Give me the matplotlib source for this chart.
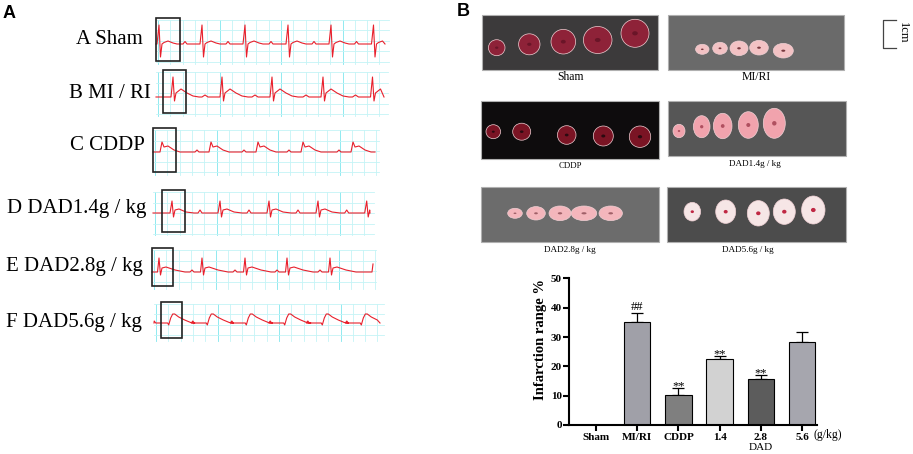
import numpy as np
import matplotlib
matplotlib.use('Agg')
from matplotlib import pyplot as plt
from matplotlib.patches import Rectangle, Ellipse

SERIF = 'Liberation Serif'
SANS = 'Liberation Sans'

# ---------- panel A: ECG rows ----------
ecg_labels = ['A Sham', 'B MI / RI', 'C CDDP', 'D DAD1.4g / kg', 'E DAD2.8g / kg', 'F DAD5.6g / kg']
label_right = [143, 151, 145, 146, 143, 142]
label_y = [40, 93, 145, 209, 266, 322]
baseline_y = [44, 97, 152, 213, 272, 323]
trace_start = [156, 156, 153, 153, 152, 154]
trace_end = [385, 384, 375, 370, 372, 380]
beat_x = [
    [159, 202, 245, 288, 331, 373.5],
    [173, 222, 272, 323, 372.5],
    [162, 211, 258, 303, 353],
    [172, 220, 269, 318, 366.7],
    [159, 202, 245, 287, 330],
    [170.7, 209.3, 248.3, 286.7, 324.3, 363.3],
]
# beat shapes: (offset from R peak in px, height above baseline in px)
beat_shape = [
    [(-19, 0), (-17, 2.5), (-15, 0), (-2, 0), (0, 19), (1.5, -13), (3, 0), (5, 1.5), (9, 3), (14, 1), (18, 0)],
    [(-20, 0), (-17, 2), (-14, 0), (-2, 0), (0, 20), (1.5, -4), (3, 4), (8, 8), (14, 4), (20, 1), (26, 0)],
    [(-16, 0), (-14, 2), (-12, 0), (-2, 0), (0, 10), (2, 5), (6, 6), (12, 2), (18, 0)],
    [(-22, 0), (-20, 3), (-18, 0), (-2, 0), (0, 12), (1.5, -4), (3, 3), (7, 4), (14, 1), (22, 0)],
    [(-12, 0), (-10, 2), (-8, 0), (-1.5, 0), (0, 14), (1.5, -3), (3, 4), (7, 5), (16, 2), (26, 0)],
    [(-18, 0), (-16.5, 2), (-15, 0), (-3, 0), (-2, -2), (0, 5), (2, 9), (4, 9), (8, 6), (14, 3), (20, 0.5), (24, 0)],
]
box_x = [[155.8, 179.7], [162.6, 185.8], [152.7, 175.7], [161.7, 185], [151.7, 173], [160.7, 182.3]]
box_y = [[17.5, 60.5], [70, 113], [128, 172], [190, 232], [248, 285.7], [301.7, 338.3]]

# ---------- panel B: photos ----------
photo_names = ['Sham', 'MI/RI', 'CDDP', 'DAD1.4g / kg', 'DAD2.8g / kg', 'DAD5.6g / kg']
photo_x = [[481.7, 658.3], [667.7, 844.3], [480.7, 659], [667.7, 845.7], [480.7, 659], [667.3, 845.7]]
photo_y = [[15, 70], [15, 70], [100.7, 159], [100.7, 156], [187.3, 242.3], [187.3, 242.3]]
photo_bg = ['#3c3a3b', '#6a6a6a', '#0e0c0d', '#565656', '#6c6c6c', '#4c4c4c']
caption_x = [570, 756, 570, 755, 570, 748]
caption_y = [77, 77, 166, 164, 250, 250]
caption_size = [8.5, 8.5, 6.3, 6.6, 6.6, 6.6]
slice_x = [
    [496.7, 529.3, 563.3, 597.7, 635],
    [702.3, 720, 739, 759, 783.3],
    [493.3, 521.7, 566.7, 603.3, 640],
    [679, 701.7, 722.7, 748.3, 774.3],
    [515, 536, 560, 584, 610.7],
    [692.3, 725.7, 758.3, 784.3, 813.3],
]
slice_y = [
    [47.7, 44.3, 41.7, 40, 33.3],
    [49.3, 48.3, 48.3, 47.7, 50.7],
    [131.7, 131.7, 135, 136, 136.7],
    [131, 126.7, 126, 125, 123.3],
    [213.3, 213.3, 213.3, 213.3, 213.3],
    [211.7, 211.7, 213.3, 211.7, 210],
]
slice_w = [
    [8.3, 10.7, 12.3, 14.3, 14],
    [6.7, 7.3, 9, 9.3, 10],
    [7.3, 9, 9.3, 10, 10.7],
    [6, 8.3, 9.3, 10, 11],
    [7.3, 9.3, 11, 12.7, 11.7],
    [8.3, 10, 11, 11, 11.7],
]
slice_h = [
    [8, 10.5, 12.3, 13.5, 14],
    [5, 6, 7.3, 7.3, 7.3],
    [7, 8.5, 9.3, 10, 10.7],
    [6.7, 11, 12.7, 13.3, 15],
    [5, 6.7, 7.3, 7.3, 7.3],
    [9.3, 11.7, 12.7, 12.7, 14],
]
slice_face = ['#8e2238', '#f3c2c4', '#7a1424', '#f1a3ad', '#f4b6bc', '#f6e6e6']
slice_core = ['#6a1528', '#7a3a40', '#2a0a10', '#b05060', '#a06068', '#c02844']

# ---------- panel B: bar chart ----------
groups = ['Sham', 'MI/RI', 'CDDP', '1.4', '2.8', '5.6']
infarct = [0, 35.0, 10.2, 22.4, 15.7, 28.3]
infarct_err = [0, 3.3, 2.3, 1.2, 1.3, 3.5]
signif = ['', '##', '**', '**', '**', '']
bar_colors = ['#a0a0a8', '#a0a0a8', '#7f7f7f', '#d2d2d2', '#5c5c5c', '#a6a6ae']

fig = plt.figure(figsize=(9.13, 4.54), dpi=100)
bg = fig.add_axes([0, 0, 1, 1])
bg.set_xlim(0, 913)
bg.set_ylim(454, 0)
bg.axis('off')

bg.text(3, 13, 'A', fontsize=13, fontweight='bold', family=SANS, va='center', ha='left')
bg.text(457, 11, 'B', fontsize=13, fontweight='bold', family=SANS, va='center', ha='left')

for i in range(len(ecg_labels)):
    x0, x1 = trace_start[i], trace_end[i]
    gy0 = box_y[i][0] + 2
    gy1 = box_y[i][1] + 3
    # ECG paper grid
    for k, gx in enumerate(np.arange(x0 + 2, x1 + 4, 12.3)):
        c = '#7fe6ee' if k % 5 == 0 else '#c4f4f6'
        bg.plot([gx, gx], [gy0, gy1], color=c, lw=0.6, zorder=1)
    for k, gy in enumerate(np.arange(gy0, gy1, 10.5)):
        bg.plot([x0, x1 + 4], [gy, gy], color='#c4f4f6', lw=0.6, zorder=1)
    # trace
    px = [x0]
    py = [0]
    for bx in beat_x[i]:
        for dx, dy in beat_shape[i]:
            if x0 < bx + dx < x1:
                px.append(bx + dx)
                py.append(dy)
    px.append(x1)
    py.append(0)
    if i == 4:
        px.append(x1 + 1)
        py.append(8)
    bg.plot(px, baseline_y[i] - np.array(py), color='#e8202c', lw=0.8, zorder=3)
    bg.add_patch(Rectangle((box_x[i][0], box_y[i][0]), box_x[i][1] - box_x[i][0],
                           box_y[i][1] - box_y[i][0], fill=False, ec='#222222', lw=1.2, zorder=4))
    bg.text(label_right[i], label_y[i], ecg_labels[i], family=SERIF, fontsize=15,
            ha='right', va='center')

for i in range(len(photo_names)):
    bg.add_patch(Rectangle((photo_x[i][0], photo_y[i][0]), photo_x[i][1] - photo_x[i][0],
                           photo_y[i][1] - photo_y[i][0], fc=photo_bg[i], ec='#b0b0b0', lw=0.8))
    for sx, sy, sw, sh in zip(slice_x[i], slice_y[i], slice_w[i], slice_h[i]):
        bg.add_patch(Ellipse((sx, sy), 2 * sw, 2 * sh, fc=slice_face[i], ec='#f0d0d4', lw=0.5))
        bg.add_patch(Ellipse((sx, sy), 0.4 * sw, 0.3 * sh, fc=slice_core[i], ec='none'))
    bg.text(caption_x[i], caption_y[i], photo_names[i], family=SERIF,
            fontsize=caption_size[i], ha='center', va='center')

# scale bar
bg.plot([896, 883, 883, 896], [20, 20, 47.7, 47.7], color='#444444', lw=0.9)
bg.text(903, 33, '1cm', family=SERIF, fontsize=9, rotation=270, ha='center', va='center')

ax = fig.add_axes([0.6236, 0.0639, 0.271, 0.323])
x = np.arange(len(groups))
ax.bar(x, infarct, width=0.64, color=bar_colors, edgecolor='black', linewidth=0.8, zorder=2)
ax.errorbar(x, infarct, yerr=[np.zeros(len(x)), infarct_err], fmt='none', ecolor='black',
            elinewidth=0.9, capsize=4, capthick=0.9, zorder=1)
for xi, m, e, s in zip(x, infarct, infarct_err, signif):
    if s == '##':
        ax.text(xi, m + e + 1.0, s, family=SERIF, fontsize=9, ha='center', va='baseline')
    elif s:
        ax.text(xi, m + e - 0.4, s, family=SERIF, fontsize=9, ha='center', va='baseline')
ax.set_xlim(-0.65, 5.36)
ax.set_ylim(0, 50)
ax.set_yticks([0, 10, 20, 30, 40, 50])
ax.set_xticks(x)
ax.set_xticklabels(groups)
for lab in ax.get_xticklabels() + ax.get_yticklabels():
    lab.set_family(SERIF)
    lab.set_fontweight('bold')
    lab.set_fontsize(8)
ax.spines['top'].set_visible(False)
ax.spines['right'].set_visible(False)
ax.spines['left'].set_linewidth(1.5)
ax.spines['bottom'].set_linewidth(1.5)
ax.tick_params(width=1.5, length=4, direction='out')
ax.tick_params(axis='y', pad=1.5)
ax.tick_params(axis='x', pad=1.5)
ax.set_ylabel('Infarction range %', family=SERIF, fontweight='bold', fontsize=10.5)
ax.yaxis.set_label_coords(-0.092, 0.58)
ax.text(4, -0.17, 'DAD', family=SERIF, fontsize=8, ha='center', va='baseline',
        transform=ax.get_xaxis_transform())
ax.text(5.28, -0.065, '(g/kg)', family=SERIF, fontsize=8.5, ha='left', va='center',
        transform=ax.get_xaxis_transform(), clip_on=False)

fig.savefig('out.png', dpi=100)
